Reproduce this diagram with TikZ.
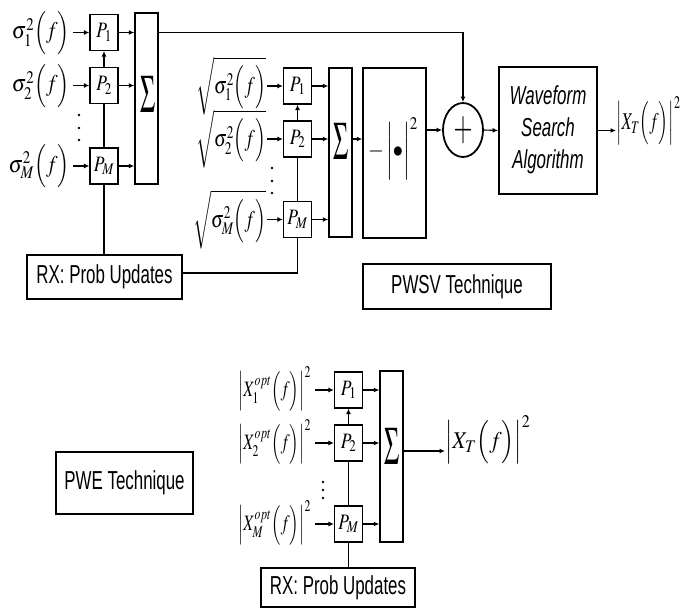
\documentclass[tikz,border=0pt]{standalone}
\usepackage{amsmath}
\usepackage{mathptmx}
\usepackage[no-math]{fontspec}
\setmainfont{Liberation Sans}
\usepackage{graphicx}
\usetikzlibrary{arrows.meta,shapes.geometric}
\newcommand{\mx}[2][0.72]{\scalebox{#1}[1]{\fontsize{22}{26}\selectfont$#2$}}
\newcommand{\my}[2][0.8]{\scalebox{#1}[1]{\fontsize{24}{30}\selectfont$#2$}}
\newcommand{\px}[1]{\scalebox{0.8}[1]{\fontsize{22}{26}\selectfont$#1$}}
\newcommand{\tx}[1]{\scalebox{0.65}[1]{\fontsize{26}{30}\selectfont #1}}
\newcommand{\sig}{\resizebox{15pt}{36pt}{$\Sigma$}}
\tikzset{
 pbox/.style={draw, line width=1.2pt, minimum width=28pt, minimum height=36pt, inner sep=0pt},
 sbox/.style={draw, line width=1.4pt, minimum width=23pt, inner sep=0pt},
 tbox/.style={draw, line width=1.2pt, inner sep=0pt},
 arr/.style={-{Latex[length=5.5pt,width=5pt]}, line width=1.1pt},
 ln/.style={line width=1.1pt},
 lab/.style={inner sep=0pt},
 dotn/.style={circle, fill, inner sep=0pt, minimum size=2.8pt},
}
\begin{document}
\begin{tikzpicture}[x=1pt,y=-1pt]
\useasboundingbox (0,0) rectangle (681,610);
% ---------- block 1
\node[pbox] (P1a) at (104,32.5) {\px{P_1}};
\node[pbox] (P2a) at (104,85.5) {\px{P_2}};
\node[pbox] (PMa) at (104,166) {\px{P_M}};
\node[sbox, minimum height=171pt] (S1) at (146.5,98.5) {};
\node[lab] (sg1) at (147.5,94) {\sig};
\node[lab, anchor=east] (a1) at (70,33) {\my[0.84]{\sigma_1^2\Bigl(f\Bigr)}};
\node[lab, anchor=east] (a2) at (70,86) {\my[0.84]{\sigma_2^2\Bigl(f\Bigr)}};
\node[lab, anchor=east] (aM) at (70,166) {\my[0.84]{\sigma_M^2\Bigl(f\Bigr)}};
\node[dotn] (d1a) at (79,115) {};
\node[dotn] (d1b) at (79,128) {};
\node[dotn] (d1c) at (79,140) {};
\draw[arr, shorten <=3pt] (a1.east |- P1a) -- (P1a.west);
\draw[arr, shorten <=3pt] (a2.east |- P2a) -- (P2a.west);
\draw[arr, shorten <=3pt] (aM.east |- PMa) -- (PMa.west);
\draw[arr] (P1a.east) -- (S1.west |- P1a);
\draw[arr] (P2a.east) -- (S1.west |- P2a);
\draw[arr] (PMa.east) -- (S1.west |- PMa);
\draw[arr] (P2a.north) -- (P1a.south);
\draw[ln] (PMa.north) -- (P2a.south);
\node[tbox, minimum width=155pt, minimum height=44pt] (RX1) at (104.5,277) {\tx{RX: Prob Updates}};
\draw[ln] (PMa.south) -- (PMa.south |- RX1.north);
% ---------- block 2
\node[pbox] (P1b) at (297.5,86) {\px{P_1}};
\node[pbox] (P2b) at (297.5,139) {\px{P_2}};
\node[pbox] (PMb) at (297.5,219.5) {\px{P_M}};
\node[sbox, minimum height=169pt] (S2) at (340.5,152.5) {};
\node[lab] (sg2) at (340.5,141) {\sig};
\node[lab, anchor=east] (b1) at (266,86) {\my[0.75]{\sqrt{\sigma_1^2\Bigl(f\Bigr)}}};
\node[lab, anchor=east] (b2) at (266,139) {\my[0.75]{\sqrt{\sigma_2^2\Bigl(f\Bigr)}}};
\node[lab, anchor=east] (bM) at (266,219.5) {\my[0.75]{\sqrt{\sigma_M^2\Bigl(f\Bigr)}}};
\node[dotn] (d2a) at (272,168) {};
\node[dotn] (d2b) at (272,181) {};
\node[dotn] (d2c) at (272,193) {};
\draw[arr, shorten <=1pt] (b1.east |- P1b) -- (P1b.west);
\draw[arr, shorten <=1pt] (b2.east |- P2b) -- (P2b.west);
\draw[arr, shorten <=1pt] (bM.east |- PMb) -- (PMb.west);
\draw[arr] (P1b.east) -- (S2.west |- P1b);
\draw[arr] (P2b.east) -- (S2.west |- P2b);
\draw[arr] (PMb.east) -- (S2.west |- PMb);
\draw[arr] (P2b.north) -- (P1b.south);
\draw[ln] (PMb.north) -- (P2b.south);
\coordinate (r1) at ([yshift=4pt]RX1.east);
\draw[ln] (r1) -| (PMb.south);
\node[tbox, line width=1.4pt, minimum width=63pt, minimum height=170pt] (SQ) at (394.5,153) {};
\node[lab] (sqt) at (393,149) {\scalebox{0.85}[1]{\fontsize{24}{30}\selectfont$-\left|\rule[-23pt]{0pt}{58pt}\bullet\right|^{2}$}};
\draw[arr] (S2.east |- P2b) -- (SQ.west |- P2b);
\node[ellipse, draw, line width=1.8pt, minimum width=40pt, minimum height=54pt, inner sep=0pt] (C) at (463,130) {\resizebox{19pt}{24pt}{$+$}};
\draw[arr] (SQ.east |- C) -- (C.west);
\draw[arr] (S1.east |- P1a) -| (C.north);
\node[draw, line width=1.8pt, minimum width=98pt, minimum height=127pt, inner sep=0pt] (W) at (548,130.5)
 {\scalebox{0.65}[1]{\fontsize{26}{32}\selectfont\itshape\begin{tabular}{@{}c@{}}Waveform\\Search\\Algorithm\end{tabular}}};
\draw[arr] (C.east) -- (W.west);
\node[lab, anchor=west] (XT1) at (616,121) {\my[0.68]{\Bigl|X_T\Bigl(f\Bigr)\Bigr|^2}};
\draw[arr] (W.east) -- (W.east -| XT1.west);
\node[tbox, minimum width=188pt, minimum height=45pt] (PWSV) at (457,286.5) {\tx{PWSV Technique}};
% ---------- block 3
\node[pbox] (P1c) at (348.5,390) {\px{P_1}};
\node[pbox] (P2c) at (348.5,443) {\px{P_2}};
\node[pbox] (PMc) at (348.5,524) {\px{P_M}};
\node[sbox, minimum height=171pt] (S3) at (391.5,456.5) {};
\node[lab] (sg3) at (392,446) {\sig};
\node[lab, anchor=east] (c1) at (311,389) {\mx{\Bigl|X_1^{opt}\Bigl(f\Bigr)\Bigr|^2}};
\node[lab, anchor=east] (c2) at (311,442) {\mx{\Bigl|X_2^{opt}\Bigl(f\Bigr)\Bigr|^2}};
\node[lab, anchor=east] (cM) at (311,523) {\mx{\Bigl|X_M^{opt}\Bigl(f\Bigr)\Bigr|^2}};
\node[dotn] (d3a) at (323,482) {};
\node[dotn] (d3b) at (323,490) {};
\node[dotn] (d3c) at (323,498) {};
\draw[arr, shorten <=4pt] (c1.east |- P1c) -- (P1c.west);
\draw[arr, shorten <=4pt] (c2.east |- P2c) -- (P2c.west);
\draw[arr, shorten <=4pt] (cM.east |- PMc) -- (PMc.west);
\draw[arr] (P1c.east) -- (S3.west |- P1c);
\draw[arr] (P2c.east) -- (S3.west |- P2c);
\draw[arr] (PMc.east) -- (S3.west |- PMc);
\draw[arr] (P2c.north) -- (P1c.south);
\draw[ln] (PMc.north) -- (P2c.south);
\node[lab, anchor=west] (XT2) at (445,440) {\my[0.9]{\Bigl|X_T\Bigl(f\Bigr)\Bigr|^2}};
\coordinate (o3) at ([yshift=5.5pt]S3.east);
\draw[arr] (o3) -- (o3 -| XT2.west);
\node[tbox, minimum width=154pt, minimum height=39pt] (RX2) at (338,587.5) {\tx{RX: Prob Updates}};
\draw[ln] (PMc.south) -- (PMc.south |- RX2.north);
\node[tbox, minimum width=137pt, minimum height=62pt] (PWE) at (124.5,483) {\tx{PWE Technique}};
\end{tikzpicture}
\end{document}
